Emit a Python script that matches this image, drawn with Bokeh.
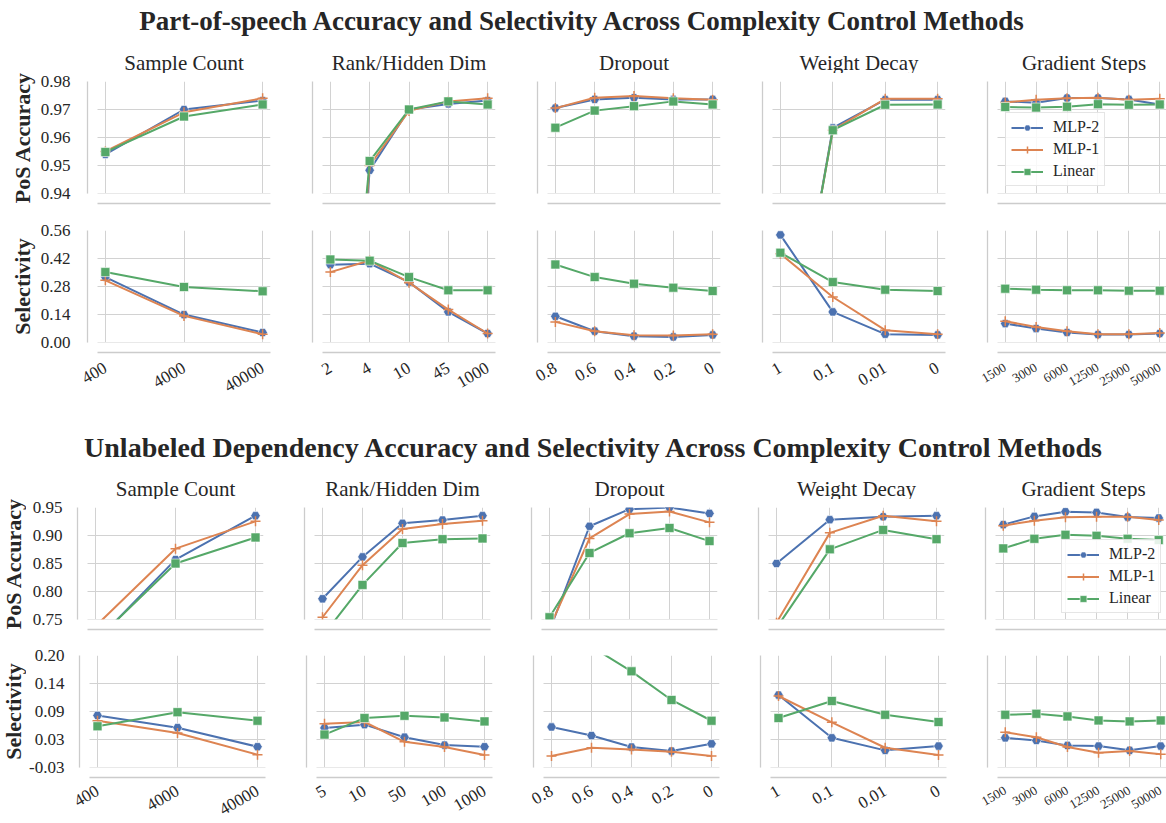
import math
from bokeh.plotting import figure
from bokeh.layouts import column, row
from bokeh.models import FixedTicker, BoxAnnotation, Legend, LegendItem, Range1d, Label
from bokeh.embed import file_html
from bokeh.resources import INLINE

FONT = "Liberation Serif"
TXT = "#262626"
GRID = "#d2d2d2"
SPINE = "#cccccc"

# ---------------- data ----------------
series_names = ["MLP-2", "MLP-1", "Linear"]
series_colors = ["#4C72B0", "#DD8452", "#55A868"]
series_markers = ["hex", "cross", "square"]

methods = ["Sample Count", "Rank/Hidden Dim", "Dropout", "Weight Decay", "Gradient Steps"]
section_titles = [
    "Part-of-speech Accuracy and Selectivity Across Complexity Control Methods",
    "Unlabeled Dependency Accuracy and Selectivity Across Complexity Control Methods",
]
row_labels = ["PoS Accuracy", "Selectivity"]

pos_x_labels = [
    ["400", "4000", "40000"],
    ["2", "4", "10", "45", "1000"],
    ["0.8", "0.6", "0.4", "0.2", "0"],
    ["1", "0.1", "0.01", "0"],
    ["1500", "3000", "6000", "12500", "25000", "50000"],
]
dep_x_labels = [
    ["400", "4000", "40000"],
    ["5", "10", "50", "100", "1000"],
    ["0.8", "0.6", "0.4", "0.2", "0"],
    ["1", "0.1", "0.01", "0"],
    ["1500", "3000", "6000", "12500", "25000", "50000"],
]

pos_acc_ticks = [0.94, 0.95, 0.96, 0.97, 0.98]
pos_acc_tick_labels = ["0.94", "0.95", "0.96", "0.97", "0.98"]
pos_sel_ticks = [0.0, 0.14, 0.28, 0.42, 0.56]
pos_sel_tick_labels = ["0.00", "0.14", "0.28", "0.42", "0.56"]
dep_acc_ticks = [0.75, 0.80, 0.85, 0.90, 0.95]
dep_acc_tick_labels = ["0.75", "0.80", "0.85", "0.90", "0.95"]
dep_sel_ticks = [-0.03, 0.0275, 0.085, 0.1425, 0.20]
dep_sel_tick_labels = ["-0.03", "0.03", "0.09", "0.14", "0.20"]

pos_acc_mlp2 = [
    [0.954, 0.970, 0.9732],
    [0.78, 0.9483, 0.970, 0.972, 0.9732],
    [0.9705, 0.9736, 0.9742, 0.9736, 0.9736],
    [0.857, 0.9634, 0.9735, 0.9735],
    [0.9729, 0.9724, 0.9741, 0.9741, 0.9736, 0.9718],
]
pos_acc_mlp1 = [
    [0.955, 0.969, 0.974],
    [0.79, 0.950, 0.9695, 0.9729, 0.974],
    [0.9705, 0.9742, 0.9748, 0.974, 0.9735],
    [0.858, 0.9626, 0.9738, 0.9738],
    [0.9725, 0.9735, 0.974, 0.9742, 0.9735, 0.9738],
]
pos_acc_linear = [
    [0.9548, 0.9675, 0.9718],
    [0.80, 0.9516, 0.970, 0.9729, 0.9718],
    [0.9635, 0.9696, 0.9712, 0.9729, 0.9718],
    [0.858, 0.9626, 0.9717, 0.9718],
    [0.9709, 0.9707, 0.971, 0.9719, 0.9717, 0.9718],
]

pos_sel_mlp2 = [
    [0.327, 0.1396, 0.050],
    [0.389, 0.394, 0.302, 0.153, 0.045],
    [0.131, 0.0565, 0.0316, 0.028, 0.038],
    [0.538, 0.153, 0.0415, 0.038],
    [0.0947, 0.0698, 0.050, 0.040, 0.040, 0.045],
]
pos_sel_mlp1 = [
    [0.311, 0.133, 0.0415],
    [0.352, 0.410, 0.299, 0.1645, 0.045],
    [0.103, 0.0565, 0.0366, 0.035, 0.0415],
    [0.444, 0.2276, 0.0615, 0.0415],
    [0.106, 0.078, 0.0565, 0.0415, 0.0415, 0.048],
]
pos_sel_linear = [
    [0.352, 0.2775, 0.256],
    [0.415, 0.409, 0.327, 0.261, 0.261],
    [0.390, 0.327, 0.294, 0.274, 0.2575],
    [0.449, 0.302, 0.264, 0.2575],
    [0.269, 0.264, 0.261, 0.261, 0.259, 0.259],
]

dep_acc_mlp2 = [
    [0.710, 0.857, 0.9353],
    [0.787, 0.8618, 0.9218, 0.9276, 0.9353],
    [0.730, 0.9165, 0.947, 0.950, 0.9394],
    [0.850, 0.9282, 0.9335, 0.9353],
    [0.9194, 0.9341, 0.9424, 0.9412, 0.9329, 0.9312],
]
dep_acc_mlp1 = [
    [0.738, 0.8765, 0.9253],
    [0.754, 0.847, 0.9118, 0.9206, 0.9265],
    [0.735, 0.8947, 0.9382, 0.943, 0.9235],
    [0.744, 0.9047, 0.9353, 0.9253],
    [0.9176, 0.9265, 0.9324, 0.9335, 0.9335, 0.9276],
]
dep_acc_linear = [
    [0.712, 0.850, 0.8965],
    [0.720, 0.8118, 0.8865, 0.8935, 0.8947],
    [0.754, 0.8688, 0.904, 0.9135, 0.890],
    [0.735, 0.8753, 0.910, 0.8935],
    [0.877, 0.8941, 0.9012, 0.8994, 0.8941, 0.8918],
]

dep_sel_mlp2 = [
    [0.0769, 0.0518, 0.0126],
    [0.0512, 0.058, 0.0322, 0.016, 0.0126],
    [0.0532, 0.0356, 0.012, 0.0038, 0.0187],
    [0.1188, 0.0309, 0.0052, 0.014],
    [0.0309, 0.0255, 0.0153, 0.014, 0.0052, 0.014],
]
dep_sel_mlp1 = [
    [0.066, 0.041, -0.0036],
    [0.060, 0.0634, 0.0228, 0.012, -0.0043],
    [-0.0063, 0.0106, 0.0072, 0.0025, -0.0063],
    [0.1168, 0.0627, 0.0106, -0.0043],
    [0.0424, 0.0322, 0.012, 0.0004, 0.0038, -0.0029],
]
dep_sel_linear = [
    [0.0546, 0.0836, 0.066],
    [0.0376, 0.0715, 0.0762, 0.0728, 0.0647],
    [0.260, 0.218, 0.1675, 0.1087, 0.066],
    [0.0715, 0.1066, 0.0782, 0.0634],
    [0.0782, 0.0803, 0.0749, 0.0667, 0.0647, 0.0667],
]

# ---------------- layout constants (page px) ----------------
PAD = 10
DATA_H = 112
RIGHT_EDGE = 1166


def panel(cats, ys3, ticks, tick_labels, data_w, frame_w, borders,
          show_x, show_y, xfont="16px", xstandoff=10, ystandoff=15, legend_at=None):
    b_left, b_right, b_top, b_bottom = borders
    n = len(cats)
    m = 0.05 * (n - 1)
    u = data_w / ((n - 1) + 2 * m)
    x0 = -m - PAD / u
    x1 = x0 + frame_w / u
    ymin, ymax = ticks[0], ticks[-1]
    v = DATA_H / (ymax - ymin)
    y0 = ymin - PAD / v
    p = figure(frame_width=frame_w, frame_height=DATA_H + PAD,
               x_range=Range1d(x0, x1), y_range=Range1d(y0, ymax),
               toolbar_location=None, output_backend="svg", title=None,
               min_border_left=b_left, min_border_right=b_right,
               min_border_top=b_top, min_border_bottom=b_bottom)
    p.outline_line_color = None
    p.background_fill_color = "white"
    p.border_fill_color = "white"

    xs = list(range(n))
    xa = p.xaxis[0]
    ya = p.yaxis[0]
    xa.ticker = FixedTicker(ticks=xs if show_x else [])
    xa.major_label_overrides = {i: c for i, c in enumerate(cats)}
    xa.bounds = (-m, n - 1 + m)
    ya.ticker = FixedTicker(ticks=ticks if show_y else [])
    ya.major_label_overrides = {t: l for t, l in zip(ticks, tick_labels)}
    ya.bounds = (ymin, ymax)
    for ax in (xa, ya):
        ax.axis_line_color = SPINE
        ax.axis_line_width = 1.3
        ax.major_tick_line_color = None
        ax.minor_tick_line_color = None
        ax.major_tick_out = 0
        ax.major_tick_in = 0
        ax.minor_tick_out = 0
        ax.minor_tick_in = 0
        ax.major_label_text_font = FONT
        ax.major_label_text_color = TXT
    xa.major_label_text_font_size = xfont
    xa.major_label_orientation = math.pi / 6
    xa.major_label_standoff = xstandoff if show_x else 0
    ya.major_label_text_font_size = "17px"
    ya.major_label_standoff = ystandoff if show_y else 0

    p.xgrid[0].ticker = FixedTicker(ticks=xs)
    p.ygrid[0].ticker = FixedTicker(ticks=ticks)
    p.xgrid.grid_line_color = GRID
    p.ygrid.grid_line_color = GRID
    p.xgrid.grid_line_width = 1
    p.ygrid.grid_line_width = 1

    items = []
    for name, ys, col, mk in zip(series_names, ys3, series_colors, series_markers):
        lr = p.line(xs, ys, line_color=col, line_width=2)
        if mk == "cross":
            sr = p.scatter(xs, ys, marker=mk, size=10, line_color=col, line_width=1.5)
        elif mk == "hex":
            sr = p.scatter(xs, ys, marker=mk, size=9.5, fill_color=col,
                           line_color="white", line_width=0.6)
        else:
            sr = p.scatter(xs, ys, marker=mk, size=9, fill_color=col,
                           line_color="white", line_width=0.6)
        items.append(LegendItem(label=name, renderers=[lr, sr]))

    # white masks hide the offset gap between spines and the data area
    p.renderers.append(BoxAnnotation(top=ymin, fill_color="white", fill_alpha=1.0,
                                     line_alpha=0, level="glyph"))
    p.renderers.append(BoxAnnotation(right=-m, fill_color="white", fill_alpha=1.0,
                                     line_alpha=0, level="glyph"))

    if legend_at is not None:
        leg = Legend(items=items, location=legend_at,
                     label_text_font=FONT, label_text_font_size="16px",
                     label_text_color=TXT, glyph_width=32, glyph_height=17,
                     label_height=17, label_standoff=10, spacing=4, padding=5,
                     margin=0, border_line_color="#cccccc", border_line_width=1,
                     background_fill_color="white", background_fill_alpha=0.85)
        p.add_layout(leg)
    return p


def header(left, height, top, title_x, title_y, title_size, col_y, col_centers, title_text):
    p = figure(width=RIGHT_EDGE - left, height=height,
               x_range=Range1d(left, RIGHT_EDGE), y_range=Range1d(top + height, top),
               x_axis_type=None, y_axis_type=None, toolbar_location=None,
               output_backend="svg", title=None, min_border=0)
    p.outline_line_color = None
    p.add_layout(Label(x=title_x, y=title_y, text=title_text, text_align="center",
                       text_baseline="middle", text_font=FONT, text_font_size=title_size,
                       text_font_style="bold", text_color=TXT))
    for cx, t in zip(col_centers, methods):
        p.add_layout(Label(x=cx, y=col_y, text=t, text_align="center",
                           text_baseline="middle", text_font=FONT, text_font_size="21px",
                           text_color=TXT))
    return p


def ylabel_fig(width, top, height, cx, centers):
    p = figure(width=width, height=height,
               x_range=Range1d(0, width), y_range=Range1d(top + height, top),
               x_axis_type=None, y_axis_type=None, toolbar_location=None,
               output_backend="svg", title=None, min_border=0)
    p.outline_line_color = None
    for text, cy in zip(row_labels, centers):
        p.add_layout(Label(x=cx, y=cy, text=text, angle=math.pi / 2, text_align="center",
                           text_baseline="middle", text_font=FONT, text_font_size="22px",
                           text_font_style="bold", text_color=TXT))
    return p


def section(x_labels, acc3, sel3, acc_ticks, acc_tl, sel_ticks, sel_tl, spines, data_w,
            last_w, lab_w, lab_cx, hdr, tops, legend_at, xfont, xstandoff, ystandoff,
            title_text):
    # hdr: (header_top, header_height, title_x, title_y, title_size, col_y)
    h_top, h_height, title_x, title_y, title_size, col_y = hdr
    r1_top, r1_frame, r1_bot, r2_frame, r2_bot = tops
    rows = []
    centers = []
    for ri in range(2):
        if ri == 0:
            fig_top, frame_top, fig_bot = r1_top, r1_frame, r1_bot
        else:
            fig_top, frame_top, fig_bot = r1_bot, r2_frame, r2_bot
        b_top = frame_top - fig_top
        b_bot = fig_bot - (frame_top + DATA_H + PAD)
        centers.append(frame_top + DATA_H / 2)
        children = []
        for ci in range(5):
            spine = spines[ci]
            b_left = spine - lab_w if ci == 0 else PAD
            if ci < 4:
                w = data_w
                frame_w = data_w + PAD
                b_right = (spines[ci + 1] - PAD) - (spine + frame_w)
            else:
                w = last_w
                frame_w = RIGHT_EDGE - spine
                b_right = 0
            ys3 = [s[ci] for s in (acc3 if ri == 0 else sel3)]
            ticks, tl = (acc_ticks, acc_tl) if ri == 0 else (sel_ticks, sel_tl)
            p = panel(x_labels[ci], ys3, ticks, tl, w, frame_w,
                      (b_left, b_right, b_top, b_bot),
                      show_x=(ri == 1), show_y=(ci == 0),
                      xfont=("13px" if ci == 4 else xfont),
                      xstandoff=xstandoff, ystandoff=ystandoff,
                      legend_at=(legend_at if (ri == 0 and ci == 4) else None))
            children.append(p)
        rows.append(row(*children))
    col_centers = [s + PAD + data_w / 2 for s in spines]
    head = header(lab_w, h_height, h_top, title_x, title_y, title_size, col_y,
                  col_centers, title_text)
    lab = ylabel_fig(lab_w, h_top, r2_bot - h_top, lab_cx, centers)
    return row(lab, column(head, *rows))


# ---------------- top section ----------------
top_spines = [87, 312, 537, 762, 987]
sec_top = section(pos_x_labels,
                  (pos_acc_mlp2, pos_acc_mlp1, pos_acc_linear),
                  (pos_sel_mlp2, pos_sel_mlp1, pos_sel_linear),
                  pos_acc_ticks, pos_acc_tick_labels, pos_sel_ticks, pos_sel_tick_labels,
                  top_spines, 173, 170, 36, 21.5,
                  (0, 73, 582.5, 20, "27px", 62), (73, 81, 215, 230, 410), (18, 17),
                  "17px", 14, 17, section_titles[0])

# ---------------- bottom section ----------------
bot_spines = [77, 304, 531, 758, 985]
sec_bot = section(dep_x_labels,
                  (dep_acc_mlp2, dep_acc_mlp1, dep_acc_linear),
                  (dep_sel_mlp2, dep_sel_mlp1, dep_sel_linear),
                  dep_acc_ticks, dep_acc_tick_labels, dep_sel_ticks, dep_sel_tick_labels,
                  bot_spines, 176, 171, 26, 12.5,
                  (410, 89, 594, 447, "28px", 488), (499, 507, 641, 655, 823), (76, 16),
                  "17px", 12, 15, section_titles[1])

layout = column(sec_top, sec_bot)

open("out.html", "w").write(file_html(layout, INLINE))
